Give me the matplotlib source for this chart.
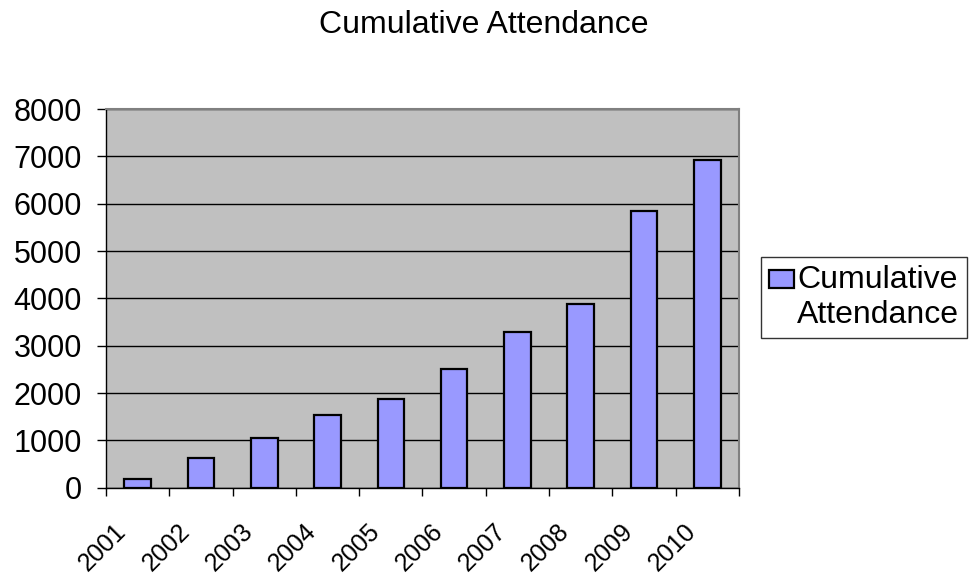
import numpy as np
import matplotlib
matplotlib.use("Agg")
import matplotlib.pyplot as plt
from matplotlib.transforms import ScaledTranslation
from matplotlib.patches import Rectangle
from matplotlib.legend_handler import HandlerPatch

# Datos de asistencia acumulada por año
years = ['2001', '2002', '2003', '2004', '2005', '2006', '2007', '2008', '2009', '2010']
attendance = [177, 621, 1056, 1529, 1867, 2508, 3283, 3881, 5846, 6924]
y_ticks = [0, 1000, 2000, 3000, 4000, 5000, 6000, 7000, 8000]

plt.rcParams['font.family'] = ['Liberation Sans', 'DejaVu Sans']


class TopBoxHandler(HandlerPatch):
    # cuadro de la leyenda alineado con la primera línea del texto
    def create_artists(self, legend, orig_handle, xdescent, ydescent,
                       width, height, fontsize, trans):
        p = Rectangle((-xdescent, -ydescent + 0.58 * fontsize), width, height)
        self.update_prop(p, orig_handle, legend)
        p.set_transform(trans)
        return [p]


fig = plt.figure(figsize=(9.71, 5.75), dpi=100)
ax = fig.add_axes([0.1092, 0.1518, 0.761 - 0.1092, 0.8104 - 0.1518])
ax.set_facecolor('#C0C0C0')

x = np.arange(len(years))
bars = ax.bar(x, attendance, width=0.42, color='#9999FF', edgecolor='black',
              linewidth=1.6, zorder=3)

ax.set_xlim(-0.5, len(years) - 0.5)
ax.set_ylim(0, 8000)
ax.set_yticks(y_ticks)
ax.yaxis.grid(True, color='black', linewidth=1.0, zorder=1)
ax.tick_params(axis='y', labelsize=22, length=6.5, width=1, direction='out', pad=11)

# Marcas entre categorías, etiquetas centradas en cada barra
ax.set_xticks(np.arange(len(years) + 1) - 0.5)
ax.set_xticklabels([])
ax.tick_params(axis='x', length=6, width=1, direction='out', which='major')
ax.set_xticks(x, minor=True)
ax.set_xticklabels(years, minor=True, rotation=45, ha='right', va='center',
                   rotation_mode='anchor', fontsize=18)
ax.tick_params(axis='x', which='minor', length=0, pad=0)
offset = ScaledTranslation(-15 / 100, -40 / 100, fig.dpi_scale_trans)
for lbl in ax.xaxis.get_minorticklabels():
    lbl.set_transform(lbl.get_transform() + offset)

for side in ['top', 'right']:
    ax.spines[side].set_color('#808080')
    ax.spines[side].set_linewidth(1.5)
for side in ['left', 'bottom']:
    ax.spines[side].set_color('black')
    ax.spines[side].set_linewidth(1.0)

fig.text(0.4985, 1 - 33 / 575, 'Cumulative Attendance', fontsize=23,
         ha='center', va='baseline')

handle = bars.patches[0]
leg = ax.legend([handle], ['Cumulative\nAttendance'], loc='center left',
                bbox_to_anchor=(761 / 971, 1 - 297.5 / 575),
                bbox_transform=fig.transFigure, fontsize=23, frameon=True,
                fancybox=False, edgecolor='black', handlelength=0.78,
                handleheight=0.5, handletextpad=0.1, borderpad=0.25,
                borderaxespad=0, handler_map={handle: TopBoxHandler()})
leg.get_frame().set_linewidth(1.0)

fig.savefig('out.png', dpi=100)
